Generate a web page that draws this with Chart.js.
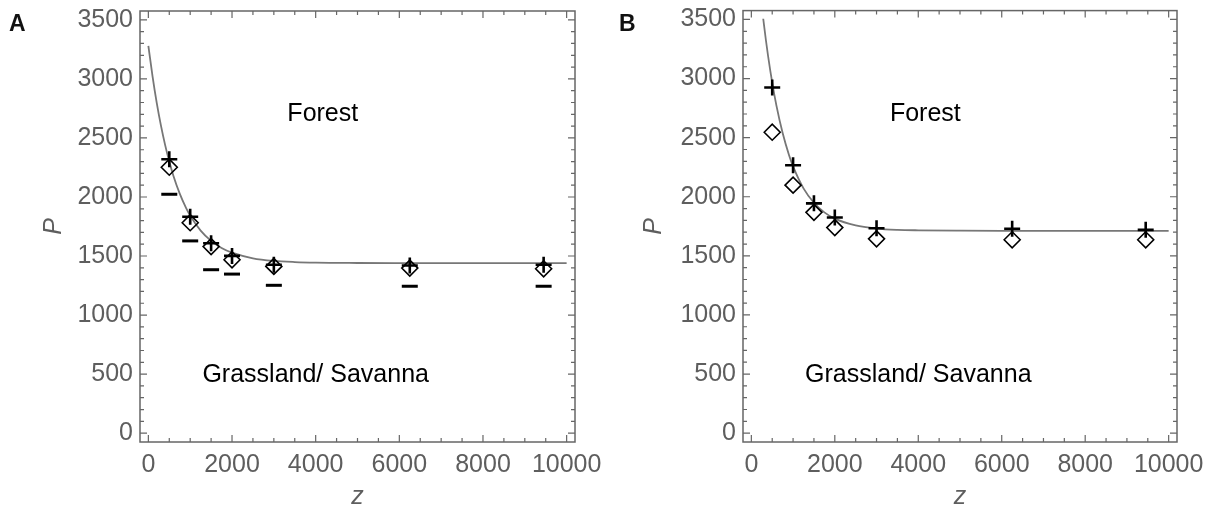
<!DOCTYPE html>
<html>
<head>
<meta charset="utf-8">
<title>P vs z</title>
<script src="https://cdn.jsdelivr.net/npm/chart.js@4/dist/chart.umd.min.js"></script>
<style>
  body { margin: 0; background: #fff; font-family: "Liberation Sans", Arial, sans-serif; }
  .panel { position: absolute; top: 0; width: 607px; height: 514px; }
  .panel-label { position: absolute; top: 12px; font: bold 23px/23px "Liberation Sans", Arial, sans-serif; color: #111; z-index: 2; }
</style>
</head>
<body>
<div class="panel" style="left:0"><canvas id="chartA"></canvas></div>
<div class="panel" style="left:607px"><canvas id="chartB"></canvas></div>
<div class="panel-label" style="left:9px">A</div>
<div class="panel-label" style="left:619px">B</div>

<script>
// sample sites (z) shared by both panels
const zValues = [500, 1000, 1500, 2000, 3000, 6250, 9450];

// panel A
const plusA = [2320, 1832, 1608, 1501, 1426, 1420, 1426];
const diamondA = [2252, 1782, 1580, 1468, 1412, 1398, 1392];
const dashA = [2023, 1628, 1384, 1347, 1252, 1244, 1244];
const curveZA = [0, 100, 200, 300, 400, 500, 600, 750, 900, 1000, 1250, 1500, 1750, 2000, 2500, 3000, 3500, 4000, 5000, 6000, 8000, 10000];
const curvePA = [3280, 3021, 2797, 2606, 2441, 2300, 2178, 2028, 1908, 1842, 1715, 1628, 1568, 1528, 1481, 1459, 1449, 1444, 1441, 1440, 1440, 1440];

// panel B
const plusB = [2924, 2266, 1944, 1824, 1734, 1729, 1720];
const diamondB = [2546, 2098, 1868, 1739, 1644, 1636, 1636];
const curveZB = [285, 350, 400, 500, 600, 750, 900, 1000, 1250, 1500, 1750, 2000, 2500, 3000, 3500, 4000, 5000, 6000, 8000, 10000];
const curvePB = [3506, 3322, 3193, 2966, 2773, 2539, 2356, 2257, 2071, 1949, 1868, 1815, 1757, 1731, 1720, 1716, 1713, 1712, 1712, 1712];

// axes
const xTickLabels = [0, 2000, 4000, 6000, 8000, 10000];
const yTickLabels = [0, 500, 1000, 1500, 2000, 2500, 3000, 3500];
const xRange = [-200, 10200];
const yRange = [-75, 3575];

// region labels [text, z, P]
const regionLabels = [
    ['Forest', 4170, 2700],
    ['Grassland/ Savanna', 4000, 490]
];

const frameColor = '#666';
const textGray = '#5e5e5e';

function toPoints(xs, ys) {
    return xs.map((x, i) => ({ x: x, y: ys[i] }));
}

// Mathematica-style frame with inward ticks on all four sides
const framePlugin = {
    id: 'frame',
    afterDatasetsDraw(chart) {
        const { ctx, chartArea: a, scales: { x, y } } = chart;
        ctx.save();
        ctx.strokeStyle = frameColor;
        ctx.lineWidth = 1.5;
        ctx.strokeRect(a.left, a.top, a.right - a.left, a.bottom - a.top);
        ctx.lineWidth = 1.2;
        ctx.beginPath();
        for (let v = 0; v <= 10000; v += 500) {
            const px = x.getPixelForValue(v);
            const len = v % 2000 === 0 ? 7 : 4;
            ctx.moveTo(px, a.bottom); ctx.lineTo(px, a.bottom - len);
            ctx.moveTo(px, a.top); ctx.lineTo(px, a.top + len);
        }
        for (let v = 0; v <= 3500; v += 100) {
            const py = y.getPixelForValue(v);
            const len = v % 500 === 0 ? 7 : 4;
            ctx.moveTo(a.left, py); ctx.lineTo(a.left + len, py);
            ctx.moveTo(a.right, py); ctx.lineTo(a.right - len, py);
        }
        ctx.stroke();

        ctx.fillStyle = '#000';
        ctx.font = '25px "Liberation Sans", Arial, sans-serif';
        ctx.textAlign = 'center';
        ctx.textBaseline = 'middle';
        regionLabels.forEach(([text, zv, pv]) => {
            ctx.fillText(text, x.getPixelForValue(zv), y.getPixelForValue(pv));
        });
        ctx.restore();
    }
};

function buildChart(canvasId, datasets, yAxisWidth, padRight, yTitlePad) {
    return new Chart(document.getElementById(canvasId), {
        type: 'scatter',
        data: { datasets: datasets },
        options: {
            responsive: true,
            maintainAspectRatio: false,
            animation: false,
            layout: { padding: { left: 0, right: padRight, top: 7, bottom: 0 } },
            plugins: { legend: { display: false }, tooltip: { enabled: false } },
            scales: {
                x: {
                    type: 'linear',
                    min: xRange[0],
                    max: xRange[1],
                    grid: { display: false, drawTicks: false },
                    border: { display: false },
                    afterBuildTicks: scale => { scale.ticks = xTickLabels.map(v => ({ value: v })); },
                    afterFit: scale => { scale.height = 72; scale.paddingLeft = 0; scale.paddingRight = 0; },
                    ticks: {
                        autoSkip: false, maxRotation: 0, minRotation: 0, padding: 8,
                        color: textGray,
                        callback: value => String(value),
                        font: { family: '"Liberation Sans", Arial, sans-serif', size: 25 }
                    },
                    title: {
                        display: true, text: 'z', color: textGray,
                        padding: { top: 0, bottom: 1.6 },
                        font: { family: '"Liberation Sans", Arial, sans-serif', size: 25, style: 'italic' }
                    }
                },
                y: {
                    type: 'linear',
                    min: yRange[0],
                    max: yRange[1],
                    grid: { display: false, drawTicks: false },
                    border: { display: false },
                    afterBuildTicks: scale => { scale.ticks = yTickLabels.map(v => ({ value: v })); },
                    afterFit: scale => { scale.width = yAxisWidth; scale.paddingTop = 0; scale.paddingBottom = 0; },
                    ticks: {
                        autoSkip: false, padding: 7,
                        color: textGray,
                        callback: value => String(value),
                        font: { family: '"Liberation Sans", Arial, sans-serif', size: 25 }
                    },
                    title: {
                        display: true, text: 'P', color: textGray,
                        padding: { top: yTitlePad, bottom: 0 },
                        font: { family: '"Liberation Sans", Arial, sans-serif', size: 25, style: 'italic' }
                    }
                }
            }
        },
        plugins: [framePlugin]
    });
}

function plusSet(values) {
    return { data: toPoints(zValues, values), pointStyle: 'cross', pointRadius: 8, borderColor: '#000', borderWidth: 2.6 };
}
function diamondSet(values) {
    return { data: toPoints(zValues, values), pointStyle: 'rectRot', pointRadius: 8, borderColor: '#000', backgroundColor: 'rgba(0,0,0,0)', borderWidth: 1.6 };
}
function curveSet(xs, ys) {
    return {
        type: 'line', data: toPoints(xs, ys), showLine: true, pointRadius: 0,
        borderColor: '#777', borderWidth: 1.8, cubicInterpolationMode: 'monotone', fill: false
    };
}

document.addEventListener('DOMContentLoaded', function() {
    buildChart('chartA', [
        plusSet(plusA),
        diamondSet(diamondA),
        { data: toPoints(zValues, dashA), pointStyle: 'line', pointRadius: 8, borderColor: '#000', borderWidth: 3 },
        curveSet(curveZA, curvePA)
    ], 140, 32, 38.6);

    buildChart('chartB', [
        plusSet(plusB),
        diamondSet(diamondB),
        curveSet(curveZB, curvePB)
    ], 136, 37, 31.6);
});
</script>
</body>
</html>
